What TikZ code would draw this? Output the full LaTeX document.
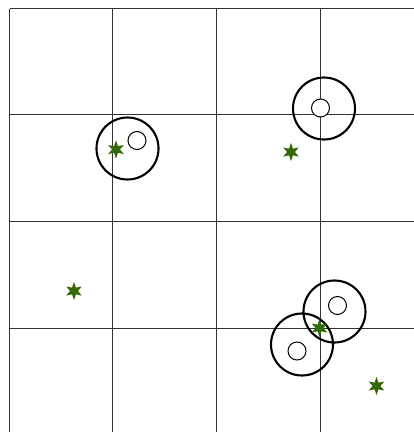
\documentclass[tikz,border=0pt]{standalone}
\usepackage{tikz}
\usetikzlibrary{shapes.geometric}
\definecolor{stargreen}{RGB}{52,104,8}
\tikzset{gridline/.style={line width=1pt, black!80}}
\tikzset{ring/.style={draw, circle, line width=2.1pt, minimum size=62pt, inner sep=0pt}}
\tikzset{hole/.style={draw, circle, fill=white, line width=1pt, minimum size=18pt, inner sep=0pt}}
\tikzset{target/.style={star, star points=6, star point ratio=2.3, fill=stargreen, minimum size=18pt, inner sep=0pt}}

\begin{document}
\begin{tikzpicture}[x=1pt, y=-1pt]
\useasboundingbox (0,0) rectangle (414,432);
\foreach \gx in {9.5,112.5,216.5,320.5} \draw[gridline] (\gx,8.5) -- (\gx,432);
\foreach \gy in {8.5,114.5,221.5,328.5} \draw[gridline] (9.5,\gy) -- (414,\gy);
\node[ring] (ra) at (127.5,148.5) {};
\node[ring] (rb) at (324,108.5) {};
\node[ring] (rc) at (302,344.5) {};
\node[ring] (rd) at (334.5,311.5) {};
\node[hole] (ha) at (137,140.5) {};
\node[hole] (hb) at (320.5,108) {};
\node[hole] (hc) at (297,351) {};
\node[hole] (hd) at (337.5,305.5) {};
\node[target] (sa) at (116,149.5) {};
\node[target] (sb) at (291,152) {};
\node[target] (sc) at (74,291) {};
\node[target] (sd) at (319.5,328) {};
\node[target] (se) at (376.5,386) {};
\end{tikzpicture}
\end{document}
